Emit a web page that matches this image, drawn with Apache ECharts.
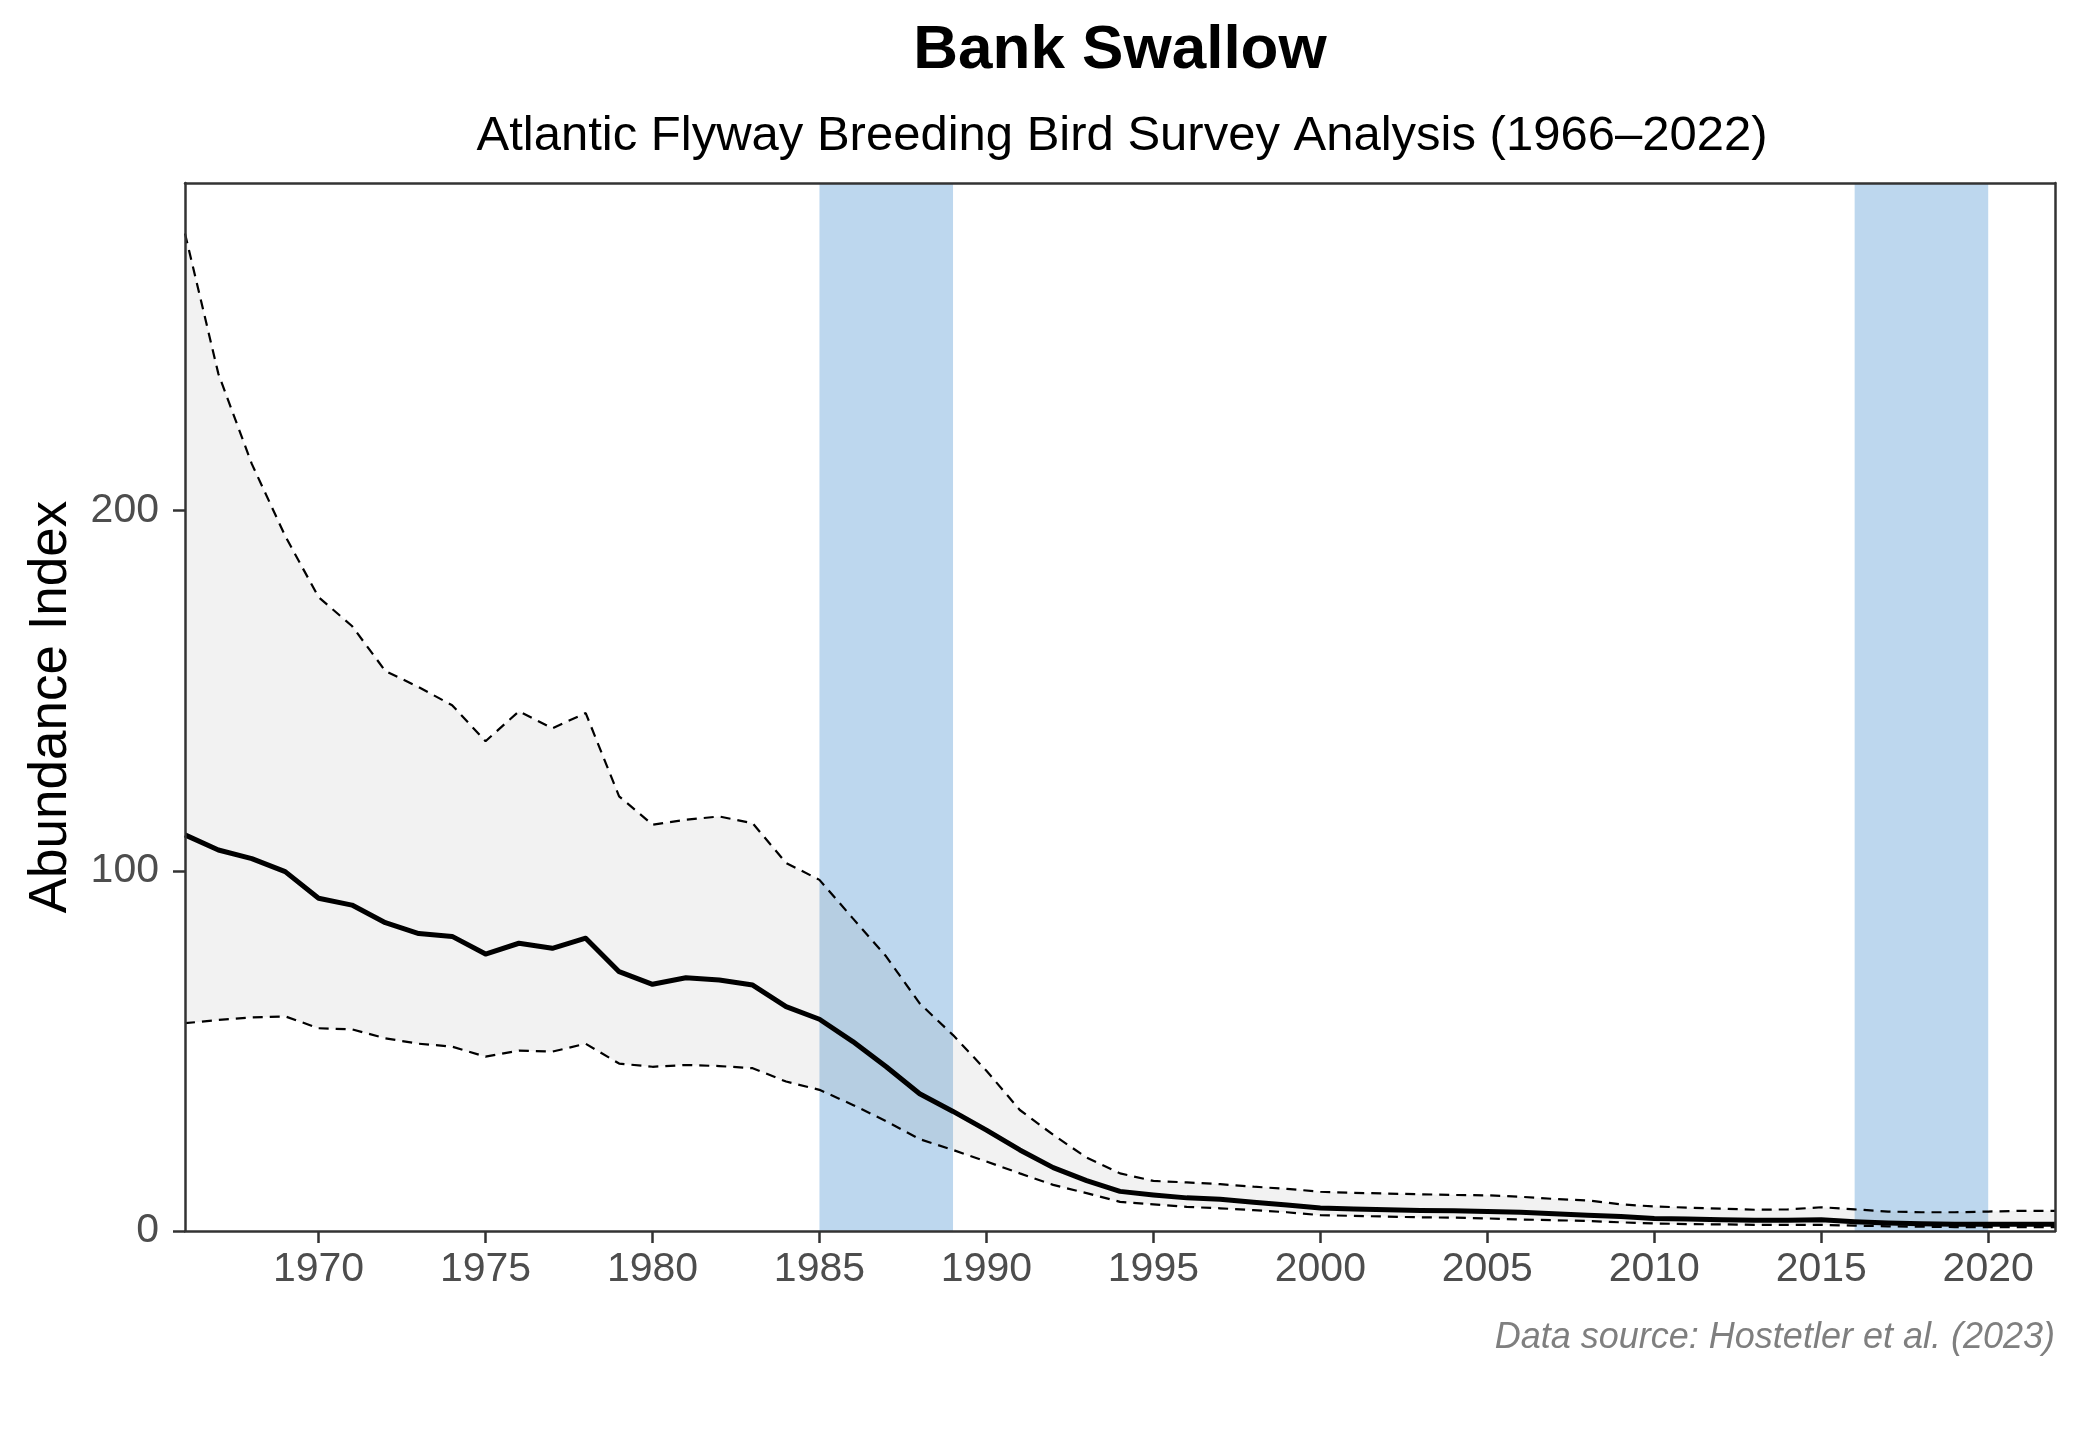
<!DOCTYPE html>
<html><head><meta charset="utf-8">
<script src="https://cdn.jsdelivr.net/npm/echarts@6/dist/echarts.min.js"></script>
<style>html,body{margin:0;padding:0;background:#fff}#c{width:2080px;height:1440px}</style>
</head><body><div id="c"></div>
<script>
const years = [1966,1967,1968,1969,1970,1971,1972,1973,1974,1975,1976,1977,1978,1979,1980,1981,1982,1983,1984,1985,1986,1987,1988,1989,1990,1991,1992,1993,1994,1995,1996,1997,1998,1999,2000,2001,2002,2003,2004,2005,2006,2007,2008,2009,2010,2011,2012,2013,2014,2015,2016,2017,2018,2019,2020,2021,2022];
const meanIndex = [110,105.8,103.4,99.8,92.4,90.5,85.6,82.6,81.8,76.9,79.9,78.5,81.3,72.0,68.5,70.3,69.7,68.3,62.3,58.8,52.6,45.6,38.1,33.2,28.0,22.5,17.6,14.0,11.0,10.0,9.2,8.8,8.0,7.2,6.4,6.1,5.9,5.7,5.6,5.4,5.2,4.8,4.4,4.0,3.5,3.3,3.1,3.0,3.0,3.1,2.6,2.2,2.0,1.9,1.9,1.9,1.9];
const upperCI = [277,238,213,193,176,168,155.5,151,146,136,144.3,139.6,143.8,120.7,112.8,114.2,115.1,113.2,102.2,97.5,86.8,76.2,63.2,54.4,44.5,33.6,26.7,20.4,16.0,13.9,13.5,13.0,12.3,11.7,10.9,10.6,10.4,10.2,10.0,9.9,9.5,8.9,8.5,7.4,6.8,6.5,6.2,5.9,6.0,6.6,6.0,5.4,5.2,5.2,5.4,5.6,5.6];
const lowerCI = [57.7,58.6,59.3,59.6,56.3,56.0,53.5,52.0,51.2,48.4,50.1,49.8,52.0,46.5,45.6,46.1,45.8,45.2,41.5,39.2,35.0,30.5,25.5,22.5,19.3,16.0,12.8,10.5,8.1,7.4,6.7,6.3,5.8,5.2,4.4,4.2,4.0,3.8,3.7,3.5,3.2,3.0,2.8,2.4,2.1,1.9,1.85,1.7,1.7,1.7,1.5,1.3,1.2,1.1,1.1,1.1,1.1];
const highlightPeriods = [[1985,1989],[2016,2020]];
const xTickLabels = [1970,1975,1980,1985,1990,1995,2000,2005,2010,2015,2020];
const yTickLabels = [0,100,200];
const titleText = 'Bank Swallow';
const subtitleText = 'Atlantic Flyway Breeding Bird Survey Analysis (1966–2022)';
const yAxisTitle = 'Abundance Index';
const captionText = 'Data source: Hostetler et al. (2023)';

const FONT = '"Liberation Sans", Arial, sans-serif';
const chart = echarts.init(document.getElementById('c'), null, {renderer: 'canvas'});
const pair = arr => years.map((y, i) => [y, arr[i]]);
const ribbonData = years.map((y, i) => [y, lowerCI[i], upperCI[i]]);

const border = {show: true, onZero: false, lineStyle: {color: '#333333', width: 2.5}};
const option = {
  backgroundColor: '#ffffff',
  animation: false,
  grid: {left: 185, right: 25, top: 183, bottom: 209, show: false},
  xAxis: [
    {type: 'value', min: 1966, max: 2022, z: 10, axisLine: border, splitLine: {show: false},
     axisTick: {show: true, customValues: xTickLabels, length: 12, lineStyle: {color: '#333333', width: 2.5}},
     axisLabel: {customValues: xTickLabels, margin: 18, color: '#4D4D4D', fontSize: 41, fontFamily: FONT,
       formatter: v => String(v)}},
    {type: 'value', min: 1966, max: 2022, position: 'top', z: 10, axisLine: border, splitLine: {show: false},
     axisTick: {show: false}, axisLabel: {show: false}}
  ],
  yAxis: [
    {type: 'value', min: 0, max: 291, z: 10, axisLine: border, splitLine: {show: false},
     axisTick: {show: true, customValues: yTickLabels, length: 12, lineStyle: {color: '#333333', width: 2.5}},
     axisLabel: {customValues: yTickLabels, margin: 26, color: '#4D4D4D', fontSize: 41, fontFamily: FONT,
       formatter: v => String(v)}},
    {type: 'value', min: 0, max: 291, position: 'right', z: 10, axisLine: border, splitLine: {show: false},
     axisTick: {show: false}, axisLabel: {show: false}}
  ],
  series: [
    {type: 'line', data: pair(meanIndex), symbol: 'none', lineStyle: {opacity: 0}, z: 1, silent: true,
     markArea: {silent: true, itemStyle: {color: '#BDD7EE', opacity: 1},
       data: highlightPeriods.map(p => [{xAxis: p[0]}, {xAxis: p[1]}])}},
    {type: 'custom', data: ribbonData, z: 2, silent: true, encode: {x: 0, y: [1, 2]},
     renderItem: function (params, api) {
       if (params.dataIndex !== 0) return null;
       const top = years.map((y, i) => api.coord([y, upperCI[i]]));
       const bottom = years.map((y, i) => api.coord([y, lowerCI[i]])).reverse();
       return {type: 'polygon', shape: {points: top.concat(bottom)},
         style: {fill: 'rgba(128,128,128,0.1)', stroke: null}};
     }},
    {type: 'line', data: pair(upperCI), symbol: 'none', z: 3, silent: true,
     lineStyle: {color: '#000000', width: 2.2, type: [10, 7]}},
    {type: 'line', data: pair(lowerCI), symbol: 'none', z: 3, silent: true,
     lineStyle: {color: '#000000', width: 2.2, type: [10, 7]}},
    {type: 'line', data: pair(meanIndex), symbol: 'none', z: 4, silent: true,
     lineStyle: {color: '#000000', width: 5, join: 'round'}}
  ],
  graphic: [
    {type: 'text', x: 1120, y: 51, z: 20, style: {text: titleText, font: 'bold 62px ' + FONT, fill: '#000000',
      align: 'center', verticalAlign: 'middle', textAlign: 'center', textVerticalAlign: 'middle'}},
    {type: 'text', x: 1122, y: 136, z: 20, style: {text: subtitleText, font: '49px ' + FONT, fill: '#000000',
      align: 'center', verticalAlign: 'middle', textAlign: 'center', textVerticalAlign: 'middle'}},
    {type: 'text', x: 51, y: 707, rotation: Math.PI / 2, z: 20, style: {text: yAxisTitle, font: '53px ' + FONT, fill: '#000000',
      align: 'center', verticalAlign: 'middle', textAlign: 'center', textVerticalAlign: 'middle'}},
    {type: 'text', x: 2055, y: 1338, z: 20, style: {text: captionText, font: 'italic 36px ' + FONT, fill: '#7F7F7F',
      align: 'right', verticalAlign: 'middle', textAlign: 'right', textVerticalAlign: 'middle'}}
  ]
};
chart.setOption(option);
</script></body></html>
